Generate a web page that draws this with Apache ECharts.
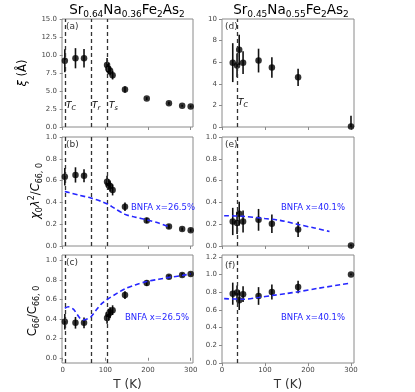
<!DOCTYPE html>
<html>
<head>
<meta charset="utf-8">
<script src="https://cdn.jsdelivr.net/npm/echarts@6/dist/echarts.min.js"></script>
<style>
  html, body { margin: 0; padding: 0; background: #fff; }
  #chart { width: 415px; height: 392px; }
</style>
</head>
<body>
<div id="chart"></div>
<script>
// ---- left column: Sr0.64Na0.36Fe2As2 ----
const tLeft = [5, 30, 50, 104, 107, 111, 117, 146, 197, 249, 280, 300];
const xiLeft = [9.2, 9.55, 9.55, 8.6, 8.1, 7.8, 7.2, 5.2, 3.95, 3.3, 2.95, 2.85];
const xiErrLeft = [1.6, 1.4, 1.3, 1.0, 0.8, 0.6, 0.6, 0.45, 0.2, 0.2, 0.15, 0.15];
const chiLeft = [0.636, 0.652, 0.644, 0.59, 0.565, 0.55, 0.514, 0.36, 0.235, 0.178, 0.155, 0.145];
const chiErrLeft = [0.08, 0.07, 0.06, 0.055, 0.05, 0.05, 0.05, 0.04, 0.025, 0.02, 0.015, 0.015];
const c66Left = [0.37, 0.36, 0.36, 0.41, 0.445, 0.465, 0.49, 0.645, 0.77, 0.835, 0.853, 0.863];
const c66ErrLeft = [0.08, 0.06, 0.055, 0.06, 0.06, 0.055, 0.05, 0.04, 0.03, 0.02, 0.02, 0.015];
const bnfaTB = [5, 15, 40, 66, 90, 105, 120, 146, 170, 197, 225, 250];
const bnfaChiB = [0.50, 0.49, 0.465, 0.44, 0.41, 0.385, 0.35, 0.29, 0.265, 0.24, 0.21, 0.175];
const bnfaTC = [5, 13, 25, 40, 48, 57, 66, 80, 92, 104, 126, 146, 170, 197, 225, 250, 280, 300];
const bnfaC66C = [0.51, 0.525, 0.5, 0.41, 0.39, 0.40, 0.42, 0.50, 0.56, 0.60, 0.66, 0.71, 0.75, 0.785, 0.808, 0.828, 0.847, 0.865];
const linesLeft = [7, 66, 105];

// ---- right column: Sr0.45Na0.55Fe2As2 ----
const tRight = [25, 35, 40, 49, 85, 116, 177, 300];
const xiRight = [5.96, 5.7, 7.15, 5.96, 6.15, 5.5, 4.6, 0.05];
const xiErrRight = [1.8, 1.1, 1.4, 1.05, 1.1, 0.95, 0.8, 1.0];
const chiRight = [0.225, 0.21, 0.297, 0.225, 0.24, 0.204, 0.152, 0.005];
const chiErrRight = [0.125, 0.1, 0.11, 0.1, 0.1, 0.085, 0.07, 0.01];
const c66Right = [0.783, 0.795, 0.71, 0.778, 0.757, 0.803, 0.858, 1.0];
const c66ErrRight = [0.125, 0.08, 0.11, 0.09, 0.1, 0.085, 0.07, 0.01];
const bnfaTE = [5, 50, 100, 135, 177, 215, 250];
const bnfaChiE = [0.278, 0.272, 0.252, 0.235, 0.198, 0.165, 0.133];
const bnfaTF = [5, 50, 85, 116, 150, 177, 225, 300];
const bnfaC66F = [0.727, 0.72, 0.74, 0.762, 0.785, 0.805, 0.845, 0.903];
const linesRight = [35];

// tick labels
const tTicks = [0, 100, 200, 300];
const xiTicksLeft = [0, 2.5, 5, 7.5, 10, 12.5, 15];
const xiTicksRight = [0, 2, 4, 6, 8, 10];
const fracTicks = [0, 0.2, 0.4, 0.6, 0.8, 1.0];
const fracTicksF = [0, 0.2, 0.4, 0.6, 0.8, 1.0, 1.2];

const colLeft = [62, 222], colWidth = [131, 132];
const rowTop = [19, 137, 255], rowHeight = [108, 109, 109];
const xRange = [[-1.6, 305.4], [0, 307]];
const yRange = [[0, 15], [0, 10], [0, 1], [0, 1], [-0.054, 1.058], [0, 1.22]];
const yTicks = [xiTicksLeft, xiTicksRight, fracTicks, fracTicks, fracTicks, fracTicksF];
const yDigits = [1, 0, 1, 1, 1, 1];

const FONT = 'DejaVu Sans';
const frameColor = '#8a8a8a';
const blue = '#2626ff';

const chart = echarts.init(document.getElementById('chart'));

const grids = [], xAxes = [], yAxes = [], series = [];

function errRender(params, api) {
  const t = api.value(0), v = api.value(1), e = api.value(2);
  const cs = params.coordSys;
  const lo = api.coord([t, v - e]), hi = api.coord([t, v + e]);
  return {
    type: 'line',
    shape: { x1: lo[0], y1: Math.min(lo[1], cs.y + cs.height), x2: hi[0], y2: Math.max(hi[1], cs.y) },
    style: { stroke: '#111', lineWidth: 1.6 }
  };
}

function addPanel(row, col, t, v, err, bT, bV, lines) {
  const i = row * 2 + col;
  grids.push({ left: colLeft[col], top: rowTop[row], width: colWidth[col], height: rowHeight[row],
    show: true, borderColor: frameColor, borderWidth: 1, containLabel: false });
  xAxes.push({
    type: 'value', gridIndex: i, min: xRange[col][0], max: xRange[col][1],
    axisLine: { show: false }, splitLine: { show: false },
    axisTick: { show: true, customValues: tTicks, length: 3, lineStyle: { color: frameColor } },
    axisLabel: { show: row === 2, customValues: tTicks, fontSize: 7, color: '#444', margin: 4, fontFamily: FONT },
    name: row === 2 ? 'T (K)' : '', nameLocation: 'middle', nameGap: 16,
    nameTextStyle: { fontSize: 12, color: '#333', fontFamily: FONT }
  });
  yAxes.push({
    type: 'value', gridIndex: i, min: yRange[i][0], max: yRange[i][1],
    axisLine: { show: false }, splitLine: { show: false },
    axisTick: { show: true, customValues: yTicks[i], length: 3, lineStyle: { color: frameColor } },
    axisLabel: { customValues: yTicks[i], fontSize: 7, color: '#444', margin: 5, fontFamily: FONT,
      formatter: val => val.toFixed(yDigits[i]) }
  });
  series.push({
    type: 'custom', xAxisIndex: i, yAxisIndex: i, renderItem: errRender,
    encode: { x: 0, y: 1 },
    data: t.map((tt, k) => [tt, v[k], err[k]]), z: 3
  });
  series.push({
    type: 'scatter', xAxisIndex: i, yAxisIndex: i, symbolSize: 6.5,
    itemStyle: { color: '#000' }, z: 4,
    data: t.map((tt, k) => [tt, v[k]]),
    markLine: {
      silent: true, symbol: 'none', label: { show: false },
      lineStyle: { type: [4, 3], color: '#333', width: 1.3 },
      data: lines.map(x => ({ xAxis: x }))
    }
  });
  if (bT) {
    series.push({
      type: 'line', xAxisIndex: i, yAxisIndex: i, showSymbol: false, smooth: 0.3, z: 5,
      lineStyle: { color: blue, width: 1.6, type: [5, 3] },
      data: bT.map((tt, k) => [tt, bV[k]])
    });
  }
}

addPanel(0, 0, tLeft, xiLeft, xiErrLeft, null, null, linesLeft);
addPanel(0, 1, tRight, xiRight, xiErrRight, null, null, linesRight);
addPanel(1, 0, tLeft, chiLeft, chiErrLeft, bnfaTB, bnfaChiB, linesLeft);
addPanel(1, 1, tRight, chiRight, chiErrRight, bnfaTE, bnfaChiE, linesRight);
addPanel(2, 0, tLeft, c66Left, c66ErrLeft, bnfaTC, bnfaC66C, linesLeft);
addPanel(2, 1, tRight, c66Right, c66ErrRight, bnfaTF, bnfaC66F, linesRight);

// rich text styles
const titleRich = {
  m: { fontSize: 13.5, fontFamily: FONT, color: '#222', lineHeight: 18, verticalAlign: 'middle' },
  s: { fontSize: 9, fontFamily: FONT, color: '#222', lineHeight: 10, verticalAlign: 'bottom' }
};
const labRich = {
  i: { fontSize: 11.5, fontFamily: FONT, fontStyle: 'italic', color: '#333', lineHeight: 16, verticalAlign: 'middle' },
  n: { fontSize: 11.5, fontFamily: FONT, color: '#333', lineHeight: 16, verticalAlign: 'middle' },
  s: { fontSize: 8, fontFamily: FONT, color: '#333', lineHeight: 9, verticalAlign: 'bottom' },
  p: { fontSize: 8, fontFamily: FONT, color: '#333', lineHeight: 9, verticalAlign: 'top' }
};
const tRich = {
  i: { fontSize: 9, fontFamily: FONT, fontStyle: 'italic', color: '#333', lineHeight: 12, verticalAlign: 'middle' },
  s: { fontSize: 6.5, fontFamily: FONT, fontStyle: 'italic', color: '#333', lineHeight: 7, verticalAlign: 'bottom' }
};

function txt(x, y, text, rich, extra) {
  return Object.assign({ type: 'text', x: x, y: y, silent: true,
    style: Object.assign({ text: text, rich: rich, align: 'left', verticalAlign: 'middle' }, extra || {}) });
}
function plain(x, y, text, color, size) {
  return { type: 'text', x: x, y: y, silent: true,
    style: { text: text, fill: color, fontSize: size, fontFamily: FONT, align: 'left', verticalAlign: 'middle' } };
}

const graphics = [
  txt(127, 10, '{m|Sr}{s|0.64}{m|Na}{s|0.36}{m|Fe}{s|2}{m|As}{s|2}', titleRich, { align: 'center' }),
  txt(291, 10, '{m|Sr}{s|0.45}{m|Na}{s|0.55}{m|Fe}{s|2}{m|As}{s|2}', titleRich, { align: 'center' }),
  Object.assign(txt(23, 73, '{i|ξ}{n| (Å)}', labRich, { align: 'center' }), { rotation: Math.PI / 2 }),
  Object.assign(txt(36, 191, '{i|χ}{s|0}{i|λ}{p|2}{n|/}{i|C}{s|66, 0}', labRich, { align: 'center' }), { rotation: Math.PI / 2 }),
  Object.assign(txt(33, 311, '{n|C}{s|66}{n|/C}{s|66, 0}', labRich, { align: 'center' }), { rotation: Math.PI / 2 }),
  txt(66, 106, '{i|T}{s|C}', tRich),
  txt(92, 106, '{i|T}{s|r}', tRich),
  txt(109, 106, '{i|T}{s|s}', tRich),
  txt(238, 103, '{i|T}{s|C}', tRich),
  plain(66, 27, '(a)', '#333', 9),
  plain(66, 145, '(b)', '#333', 9),
  plain(66, 263, '(c)', '#333', 9),
  plain(225, 27, '(d)', '#333', 9),
  plain(225, 145, '(e)', '#333', 9),
  plain(225, 266, '(f)', '#333', 9),
  plain(131, 208, 'BNFA x=26.5%', blue, 8.5),
  plain(125, 318, 'BNFA x=26.5%', blue, 8.5),
  plain(281, 208, 'BNFA x=40.1%', blue, 8.5),
  plain(281, 318, 'BNFA x=40.1%', blue, 8.5)
];

chart.setOption({
  animation: false,
  backgroundColor: '#fff',
  textStyle: { fontFamily: FONT },
  grid: grids,
  xAxis: xAxes,
  yAxis: yAxes,
  series: series,
  graphic: graphics
});
</script>
</body>
</html>
